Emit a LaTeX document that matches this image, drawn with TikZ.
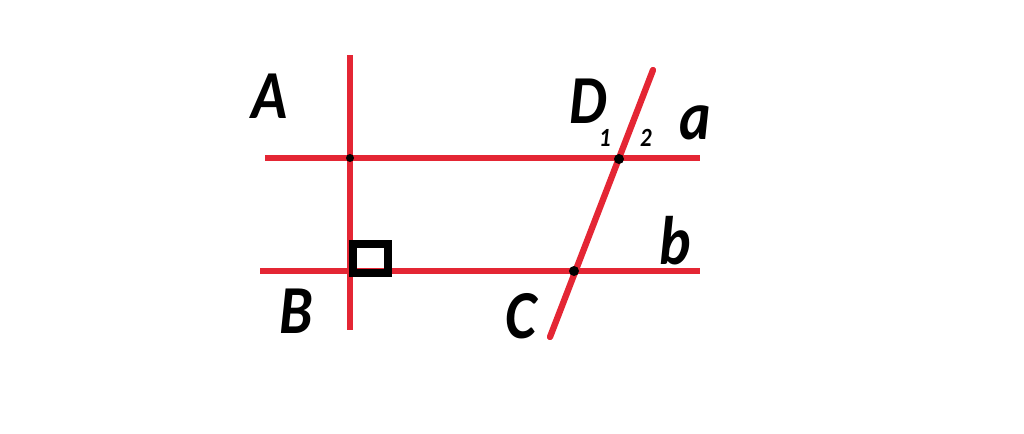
\documentclass[tikz,border=0pt]{standalone}
\usepackage{fontspec}
\setmainfont{Carlito}
\definecolor{linered}{RGB}{228,38,52}
\newcommand{\tallcap}[1]{\scalebox{1}[1.15]{#1}}
\tikzset{
  redline/.style={linered, line width=3.6pt},
  lbl/.style={font=\fontsize{34}{34}\selectfont\bfseries\itshape, inner sep=0pt, text depth=0pt},
  smalllbl/.style={font=\fontsize{13}{13}\selectfont\bfseries\itshape, inner sep=0pt, text depth=0pt},
}
\begin{document}
\begin{tikzpicture}[x=0.02cm,y=-0.02cm]
  \useasboundingbox (0,0) rectangle (1024,433);
  % Points of the lines
  \coordinate (a1) at (265,158);
  \coordinate (a2) at (700,158);
  \coordinate (b1) at (260,271);
  \coordinate (b2) at (700,271);
  \coordinate (v1) at (350,55);
  \coordinate (v2) at (350,330);
  \coordinate (s1) at (653,70);
  \coordinate (s2) at (550,337);

  % Lines a, b, AB and CD
  \draw[redline] (a1) -- (a2);
  \draw[redline] (b1) -- (b2);
  \draw[redline] (v1) -- (v2);
  \draw[redline, line cap=round] (s1) -- (s2);

  % Right angle at B
  \draw[black, line width=4.5pt] (353,244) rectangle (388,273);

  % Intersections
  \fill (350,158) circle (4);
  \fill (619,159) circle (5);
  \fill (574,271) circle (5);

  % Labels
  \node[lbl] (A) at (270,96) {\tallcap{A}};
  \node[lbl] (B) at (296,311) {\tallcap{B}};
  \node[lbl] (C) at (521,316) {\tallcap{C}};
  \node[lbl] (D) at (588,101) {\tallcap{D}};
  \node[lbl] (la) at (695,123) {\tallcap{a}};
  \node[lbl] (lb) at (675,240) {\tallcap{b}};
  \node[smalllbl] (n1) at (605,138) {\tallcap{1}};
  \node[smalllbl] (n2) at (646,138) {\tallcap{2}};
\end{tikzpicture}
\end{document}
